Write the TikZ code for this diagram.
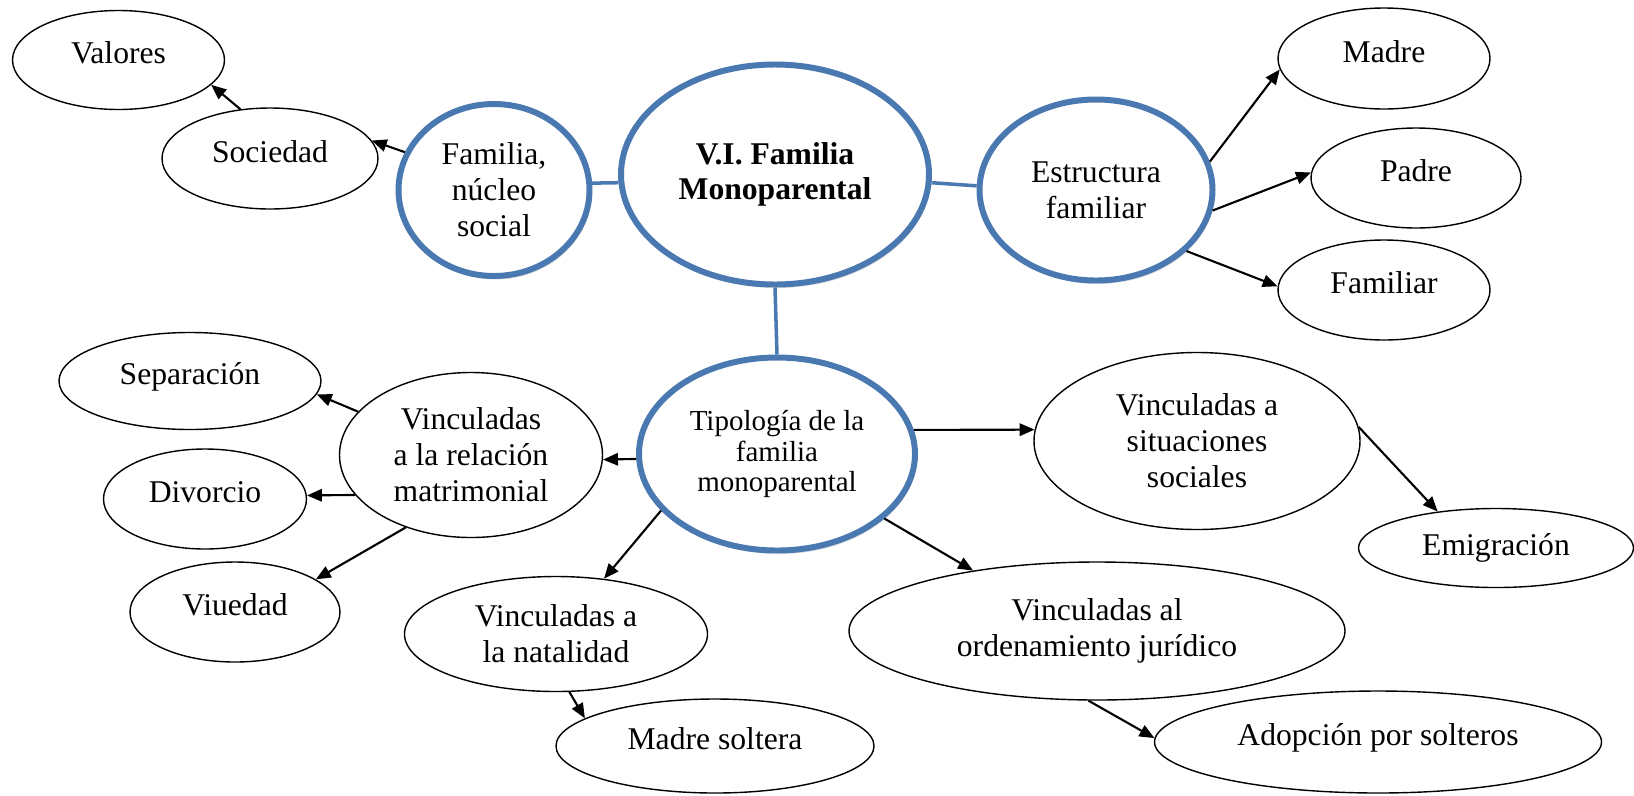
\documentclass[tikz,border=0pt]{standalone}
\usepackage{fontspec}
\setmainfont{Liberation Serif}
\usetikzlibrary{shapes.geometric,arrows.meta,shadows}
\definecolor{ovalblue}{RGB}{74,120,176}
\tikzset{
    oval/.style={draw, ellipse, line width=0.8pt, inner sep=0pt, align=center, font=\fontsize{18}{20.5}\selectfont},
    blueoval/.style={oval, draw=ovalblue, line width=3.4pt, fill=white, drop shadow={opacity=0.25, shadow xshift=1pt, shadow yshift=-2pt}},
    lifted/.style={text height=0.45cm, text depth=0.3cm},
    arr/.style={-{Triangle[length=8.5pt,width=7pt]}, line width=1.2pt},
    link/.style={draw=ovalblue, line width=2pt}
}
\begin{document}
\begin{tikzpicture}
            \useasboundingbox (0, 0) rectangle (32.68, -15.9);

            \node[blueoval, minimum width=3.82cm, minimum height=3.44cm] (famnuc) at (9.88, -3.80) {Familia,\\núcleo\\social};
            \node[blueoval, minimum width=6.16cm, minimum height=4.40cm, font=\bfseries\fontsize{18}{20}\selectfont] (vi) at (15.50, -3.49) {V.I. Familia\\Monoparental};
            \node[blueoval, minimum width=4.66cm, minimum height=3.62cm] (estr) at (21.92, -3.80) {Estructura\\familiar};
            \node[blueoval, minimum width=5.52cm, minimum height=3.86cm, font=\fontsize{16.5}{17.2}\selectfont] (tipo) at (15.54, -9.08) {Tipología de la\\familia\\monoparental};

            \node[oval, lifted, minimum width=4.24cm, minimum height=1.98cm] (valores) at (2.37, -1.20) {Valores};
            \node[oval, lifted, minimum width=4.32cm, minimum height=2.02cm] (sociedad) at (5.40, -3.17) {Sociedad};
            \node[oval, lifted, minimum width=4.24cm, minimum height=2.02cm] (madre) at (27.68, -1.17) {Madre};
            \node[oval, lifted, minimum width=4.20cm, minimum height=2.00cm] (padre) at (28.32, -3.56) {Padre};
            \node[oval, lifted, minimum width=4.24cm, minimum height=2.00cm] (familiar) at (27.68, -5.80) {Familiar};

            \node[oval, lifted, minimum width=5.24cm, minimum height=1.94cm] (separ) at (3.80, -7.62) {Separación};
            \node[oval, minimum width=5.26cm, minimum height=3.30cm] (vrel) at (9.42, -9.10) {Vinculadas\\a la relación\\matrimonial};
            \node[oval, lifted, minimum width=4.06cm, minimum height=2.00cm] (divorcio) at (4.10, -9.98) {Divorcio};
            \node[oval, lifted, minimum width=4.20cm, minimum height=2.00cm] (viuedad) at (4.70, -12.24) {Viuedad};
            \node[oval, minimum width=6.06cm, minimum height=2.30cm] (vnat) at (11.12, -12.68) {Vinculadas a\\la natalidad};
            \node[oval, lifted, minimum width=6.36cm, minimum height=1.88cm] (msoltera) at (14.30, -14.92) {Madre soltera};
            \node[oval, minimum width=6.52cm, minimum height=3.54cm] (vsit) at (23.94, -8.82) {Vinculadas a\\situaciones\\sociales};
            \node[oval, minimum width=5.50cm, minimum height=1.58cm] (emig) at (29.92, -10.96) {Emigración};
            \node[oval, minimum width=9.92cm, minimum height=2.76cm] (vord) at (21.94, -12.62) {Vinculadas al\\ordenamiento jurídico};
            \node[oval, lifted, minimum width=8.94cm, minimum height=2.04cm] (adop) at (27.56, -14.84) {Adopción por solteros};

            \draw[link] (vi.183) -- (famnuc.4);
            \draw[link] (vi.-3) -- (estr.178);
            \draw[link] (vi.south) -- (tipo.north);

            \draw[arr] (famnuc.157) -- (sociedad.10);
            \draw[arr] (sociedad.121) -- (valores.-15);
            \draw[arr] (estr.14) -- (madre.186);
            \draw[arr] (estr.-10) -- (padre.177);
            \draw[arr] (estr.-34) -- (familiar.178);

            \draw[arr] (tipo.182) -- (vrel.-2);
            \draw[arr] (vrel.159) -- (separ.-6);
            \draw[arr] (vrel.199) -- (divorcio.2);
            \draw[arr] (vrel.228) -- (viuedad.22);
            \draw[arr] (tipo.206) -- (vnat.49);
            \draw[arr] (vnat.-77) -- (msoltera.168);
            \draw[arr] (tipo.10) -- (vsit.176);
            \draw[arr] (vsit.5) -- (emig.148);
            \draw[arr] (tipo.-31) -- (vord.154);
            \draw[arr] (vord.263) -- (adop.179);
        \end{tikzpicture}
\end{document}
